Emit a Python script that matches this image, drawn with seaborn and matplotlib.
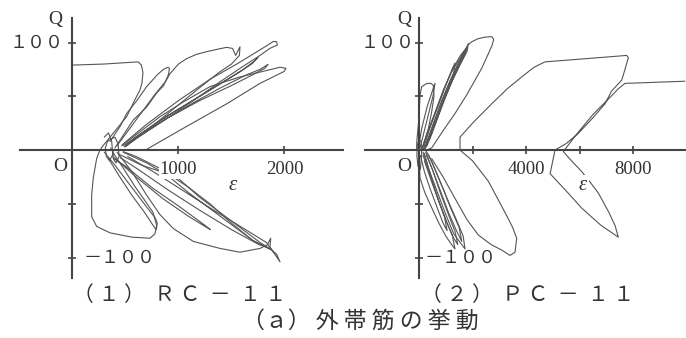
import pandas as pd
import matplotlib.pyplot as plt
import seaborn as sns

# strain (x 10^-6) vs shear Q, read off the scanned hysteresis loops
# --- (1) RC-11 ---
RC_INITIAL = [(0, 79), (300, 80), (620, 82), (650, 79), (665, 72), (655, 62), (637, 56), (575, 44),
              (511, 31), (420, 20), (354, 12), (280, 3), (259, 0), (228, -8), (196, -26), (181, -42),
              (181, -62), (228, -71), (354, -77), (560, -81), (731, -82), (778, -78), (794, -70),
              (760, -58), (690, -48), (590, -34), (480, -17), (400, -5), (360, 2)]
RC_UP_A = [(354, 8), (450, 22), (511, 34), (600, 45), (700, 59), (800, 70), (857, 75), (900, 77),
           (915, 76), (905, 70), (860, 60), (794, 53), (700, 40), (574, 28), (500, 17), (448, 9), (400, 2)]
RC_UP_B = [(420, 4), (600, 28), (780, 52), (880, 64), (920, 71), (1000, 80), (1077, 85), (1170, 89),
           (1266, 91.5), (1380, 94), (1455, 95.5), (1510, 94.5), (1540, 88), (1560, 92), (1580, 96),
           (1575, 88), (1500, 80), (1380, 72), (1200, 58), (1000, 42), (800, 26), (620, 12), (500, 3)]
RC_UP_C = [(470, 5), (700, 24), (1000, 46), (1300, 66), (1550, 80), (1700, 89), (1832, 97), (1895, 101),
           (1926, 100.7), (1932, 97.6), (1863, 94.6), (1769, 88), (1612, 78), (1400, 64), (1140, 46),
           (900, 30), (650, 14), (500, 4)]
RC_UP_D = [(511, 5), (800, 24), (1140, 44), (1400, 58), (1643, 70), (1769, 75), (1846, 79.7), (1815, 76),
           (1700, 70), (1500, 60), (1200, 46), (900, 30), (650, 14), (520, 6)]
RC_UP_E = [(463, 4), (825, 31), (1050, 45), (1297, 59), (1580, 68), (1832, 74), (1958, 77), (2014, 76),
           (1995, 73), (1769, 62), (1455, 43), (1077, 22), (794, 6), (700, 0.6)]
RC_UP_F = [(480, 4), (800, 26), (1100, 44), (1400, 62), (1600, 74), (1706, 82), (1750, 86), (1690, 80),
           (1500, 68), (1200, 50), (900, 32), (600, 12), (490, 3)]
RC_DN_A = [(300, -2), (400, -14), (500, -27), (600, -40), (700, -53), (780, -63), (800, -68), (790, -74),
           (760, -70), (680, -58), (560, -42), (440, -24), (340, -8)]
RC_DN_B = [(420, -2), (560, -20), (700, -42), (825, -60), (951, -73), (1140, -85), (1392, -91.5),
           (1580, -95), (1769, -91.5), (1840, -88), (1870, -82), (1863, -90), (1895, -95), (1958, -104),
           (1926, -97), (1880, -93), (1700, -84), (1500, -68), (1297, -50), (1100, -35), (825, -17),
           (600, -6), (479, -1.5)]
RC_DN_C = [(479, -2), (700, -12), (888, -23), (1100, -40), (1400, -62), (1700, -84), (1800, -89),
           (1880, -93), (1830, -86), (1600, -72), (1300, -54), (1000, -35), (760, -20), (520, -6)]
RC_DN_D = [(440, -4), (650, -14), (983, -25), (1200, -44), (1500, -66), (1769, -86), (1850, -91),
           (1760, -88), (1500, -74), (1200, -56), (900, -37), (620, -18), (450, -7)]
RC_DN_E = [(380, -6), (600, -25), (850, -45), (1100, -62), (1300, -74), (1250, -70), (1000, -52),
           (750, -35), (500, -15), (390, -8)]
RC_KNOT = [(300, 12), (340, 16), (370, 8), (380, -4), (350, -10), (320, -6), (310, 2), (330, 8), (360, 10),
           (400, 12), (430, 6), (440, -6), (410, -12), (385, -8), (380, 0)]

# --- (2) PC-11 ---
PC_INITIAL = [(-90, 0), (-80, 9), (0, 30), (37, 51), (100, 59), (300, 62), (450, 62), (535, 60), (560, 50),
              (470, 35), (350, 20), (200, 8), (100, 0)]
PC_UP_A = [(100, 0), (300, 15), (600, 35), (900, 55), (1200, 72), (1500, 84), (1750, 94), (1844, 99),
           (1800, 92), (1550, 80), (1250, 65), (950, 48), (650, 28), (350, 10), (200, 0)]
PC_UP_B = [(150, 0), (400, 20), (700, 40), (1000, 60), (1250, 76), (1346, 81), (1300, 72), (1050, 55),
           (750, 35), (450, 14), (250, 2)]
PC_UP_C = [(120, 2), (350, 18), (650, 38), (950, 58), (1250, 75), (1550, 88), (1800, 96), (1700, 88),
           (1450, 76), (1150, 60), (850, 42), (550, 22), (250, 4)]
PC_UP_D = [(0, 5), (100, 20), (300, 40), (500, 55), (600, 62), (520, 50), (320, 30), (120, 10), (40, 2)]
PC_UP_E = [(180, 0), (450, 18), (800, 42), (1100, 60), (1400, 76), (1650, 88), (1780, 95), (1720, 90),
           (1500, 79), (1200, 62), (900, 44), (600, 24), (300, 4)]
PC_UP_F = [(220, 2), (500, 22), (850, 46), (1150, 64), (1450, 80), (1700, 92), (1600, 84), (1300, 68),
           (1000, 50), (700, 30), (400, 10)]
PC_LOOP_1 = [(286, 0), (474, 2), (900, 18), (1346, 34), (1800, 52), (2343, 76), (2600, 90), (2740, 98),
             (2790, 103), (2716, 105.5), (2467, 105), (2200, 103.5), (1970, 100.7), (1844, 98)]
PC_LOOP_2 = [(474, -8), (900, -25), (1346, -45), (1800, -65), (2217, -79), (2700, -88), (3091, -93),
             (3402, -98), (3589, -95), (3652, -82), (3500, -72), (3339, -64), (3000, -48), (2591, -29),
             (2000, -10), (1533, 0), (1533, 12), (2000, 25), (2717, 43), (3300, 57), (3838, 68), (4300, 77),
             (4710, 82), (6000, 84.5), (7763, 88), (7825, 86), (7700, 75), (7577, 65), (7200, 55),
             (6953, 43), (6500, 30), (5955, 15.5), (5500, 6), (5084, 0), (4900, -22), (5500, -38),
             (6082, -54), (6800, -70), (7450, -81), (7325, -70), (7077, -57), (6704, -40), (6400, -30),
             (6082, -20), (5700, -10), (5396, -1.5), (5800, 12), (6500, 33), (7100, 48), (7451, 57),
             (7700, 62), (9943, 64)]
PC_DN_A = [(0, 0), (37, -26), (224, -40), (500, -55), (723, -67), (1000, -80), (1221, -88), (1346, -92),
           (1250, -80), (1000, -65), (700, -45), (400, -22), (150, -5)]
PC_DN_B = [(150, -2), (400, -20), (700, -40), (1000, -60), (1300, -78), (1600, -88), (1720, -92),
           (1650, -80), (1400, -65), (1100, -48), (800, -30), (500, -12), (250, 0)]
PC_DN_C = [(250, -2), (500, -18), (800, -38), (1100, -58), (1400, -75), (1600, -85), (1500, -72),
           (1200, -55), (900, -36), (600, -18), (350, -4)]
PC_DN_D = [(50, -5), (200, -20), (400, -35), (700, -55), (900, -68), (1050, -75), (950, -62), (700, -45),
           (450, -28), (200, -10)]
PC_DN_E = [(200, -3), (450, -25), (750, -48), (1050, -68), (1300, -82), (1450, -88), (1350, -76),
           (1100, -60), (800, -40), (500, -18), (280, -5)]
PC_KNOT = [(-60, 5), (-80, -5), (-40, -15), (50, -18), (100, -5), (80, 8), (0, 10), (-60, 5)]

RC_CURVES = [RC_INITIAL, RC_UP_A, RC_UP_B, RC_UP_C, RC_UP_D, RC_UP_E, RC_UP_F,
             RC_DN_A, RC_DN_B, RC_DN_C, RC_DN_D, RC_DN_E, RC_KNOT]
PC_CURVES = [PC_INITIAL, PC_UP_A, PC_UP_B, PC_UP_C, PC_UP_D, PC_UP_E, PC_UP_F, PC_LOOP_1, PC_LOOP_2,
             PC_DN_A, PC_DN_B, PC_DN_C, PC_DN_D, PC_DN_E, PC_KNOT]

RC_XTICKS = [1000, 2000]
RC_XLABELS = ['1000', '2000']
PC_XTICKS = [2000, 4000, 6000, 8000]
PC_XLABELS = ['', '4000', '', '8000']
Y_TICKS = [-100, -50, 50, 100]

TITLE_RC = '（ １ ）  Ｒ Ｃ  －  １ １'
TITLE_PC = '（ ２ ）  Ｐ Ｃ  －  １ １'
TITLE_ALL = '（ａ） 外 帯 筋 の 挙 動'

LINE = '#555555'
INK = '#333333'
CJK = ['Noto Sans CJK JP', 'DejaVu Sans']
SERIF = ['Liberation Serif', 'DejaVu Serif']


def to_frame(curves):
    rows = []
    for i, pts in enumerate(curves):
        for eps, q in pts:
            rows.append((i, eps, q))
    return pd.DataFrame(rows, columns=['seg', 'eps', 'Q'])


def draw_panel(ax, curves, xlim, xticks, xlabels):
    sns.lineplot(data=to_frame(curves), x='eps', y='Q', units='seg', estimator=None, sort=False,
                 color=LINE, lw=0.8, ax=ax, legend=False, zorder=2)
    ax.set_xlim(xlim)
    ax.set_ylim(-119, 122.8)
    ax.set_xlabel('')
    ax.set_ylabel('')
    ax.set_axisbelow(False)
    for s in ['top', 'right']:
        ax.spines[s].set_visible(False)
    for s in ['left', 'bottom']:
        ax.spines[s].set_position(('data', 0))
        ax.spines[s].set_linewidth(1.5)
        ax.spines[s].set_color('#444444')
    ax.set_xticks(xticks, xlabels, fontsize=13.5, family=SERIF, color=INK)
    ax.set_yticks(Y_TICKS, [''] * len(Y_TICKS))
    ax.tick_params(direction='inout', length=6, width=1.2, color='#444444', pad=5,
                   bottom=True, left=True)
    for lbl in ax.get_xticklabels():
        lbl.set_bbox(dict(facecolor='white', edgecolor='none', pad=0.5))
    ax.patch.set_alpha(0)


sns.set_style('ticks')
plt.rcParams['font.family'] = SERIF

fig = plt.figure(figsize=(6.86, 3.38), dpi=100)
ax1 = fig.add_axes([20 / 686, 60 / 338, 323 / 686, 260 / 338])
ax2 = fig.add_axes([365 / 686, 60 / 338, 321 / 686, 260 / 338])

draw_panel(ax1, RC_CURVES, (-495, 2552), RC_XTICKS, RC_XLABELS)
draw_panel(ax2, PC_CURVES, (-2019, 9980), PC_XTICKS, PC_XLABELS)

# axis annotations
for ax, qx, top_x, bot_x, ox, eps_x in [(ax1, -165, -80, 108, -118, 1514),
                                        (ax2, -560, -150, 187, -560, 6130)]:
    ax.text(qx, 121, 'Q', fontsize=14, family=SERIF, color=INK, ha='center', va='center')
    ax.text(top_x, 100, '１００', fontsize=13, family=CJK, color=INK, ha='right', va='center')
    ax.text(bot_x, -100, '－１００', fontsize=13, family=CJK, color=INK, ha='left', va='center')
    ax.text(ox, -15, 'O', fontsize=14, family=SERIF, color=INK, ha='center', va='center')
    ax.text(eps_x, -33, 'ε', fontsize=15, family=SERIF, style='italic', color=INK,
            ha='center', va='center', bbox=dict(facecolor='white', edgecolor='none', pad=1))

fig.text(180 / 686, 1 - 295 / 338, TITLE_RC, fontsize=15, family=CJK, color=INK, ha='center', va='center')
fig.text(528 / 686, 1 - 295 / 338, TITLE_PC, fontsize=15, family=CJK, color=INK, ha='center', va='center')
fig.text(360 / 686, 1 - 321 / 338, TITLE_ALL, fontsize=16.5, family=CJK, color=INK, ha='center', va='center')

fig.savefig('out.png', dpi=100, facecolor='white')
